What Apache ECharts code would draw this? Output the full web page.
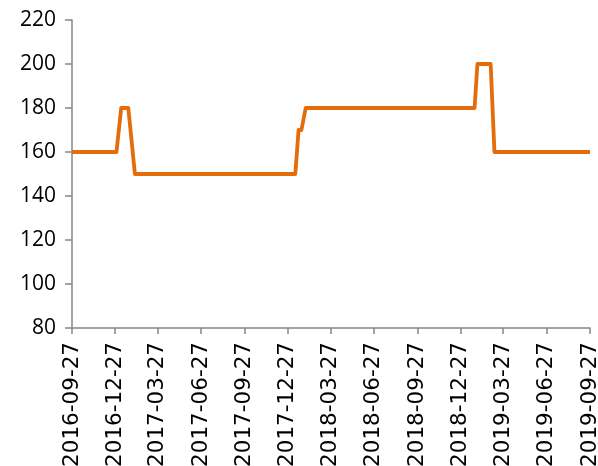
<!DOCTYPE html>
<html>
<head>
<meta charset="utf-8">
<script src="https://cdn.jsdelivr.net/npm/echarts@6/dist/echarts.min.js"></script>
<style>
html,body{margin:0;padding:0;background:#fff;}
#chart{width:598px;height:466px;}
</style>
</head>
<body>
<div id="chart"></div>
<script>
const dates = ['2016-09-27','2016-12-30','2017-01-09','2017-01-24','2017-02-07','2018-01-12','2018-01-19','2018-01-25','2018-02-03','2019-01-26','2019-02-01','2019-03-01','2019-03-09','2019-09-27'];
const values = [160,160,180,180,150,150,170,170,180,180,200,200,160,160];
const tickDates = ['2016-09-27','2016-12-27','2017-03-27','2017-06-27','2017-09-27','2017-12-27','2018-03-27','2018-06-27','2018-09-27','2018-12-27','2019-03-27','2019-06-27','2019-09-27'];
const yMin = 80, yMax = 220, yStep = 20;

function ts(s){ const p = s.split('-').map(Number); return Date.UTC(p[0], p[1]-1, p[2]) / 86400000; }
function fmt(v){ const d = new Date(Math.round(v) * 86400000); const m = String(d.getUTCMonth()+1).padStart(2,'0'); const dd = String(d.getUTCDate()).padStart(2,'0'); return d.getUTCFullYear()+'-'+m+'-'+dd; }

const tickTs = tickDates.map(ts);
const chart = echarts.init(document.getElementById('chart'));
chart.setOption({
  animation: false,
  grid: {left: 72, right: 8, top: 20, bottom: 138, containLabel: false, outerBoundsMode: 'none'},
  xAxis: {
    type: 'value',
    min: tickTs[0],
    max: tickTs[tickTs.length-1],
    splitLine: {show: false},
    axisLine: {lineStyle: {color: '#878787', width: 1.5}},
    axisTick: {show: true, customValues: tickTs, length: 6, lineStyle: {color: '#878787', width: 1.5}},
    axisLabel: {customValues: tickTs, rotate: 90, formatter: v => fmt(v), color: '#000', fontFamily: 'DejaVu Sans', fontSize: 21.5, margin: 14, showMinLabel: true, showMaxLabel: true}
  },
  yAxis: {
    type: 'value',
    min: yMin, max: yMax, interval: yStep,
    splitLine: {show: false},
    axisLine: {show: true, lineStyle: {color: '#878787', width: 1.5}},
    axisTick: {show: true, length: 7, lineStyle: {color: '#878787', width: 1.5}},
    axisLabel: {color: '#000', fontFamily: 'Open Sans', fontSize: 21, margin: 16}
  },
  series: [{
    type: 'line',
    data: dates.map((d,i) => [ts(d), values[i]]),
    showSymbol: false,
    lineStyle: {color: '#E46C0A', width: 3.8, join: 'round'},
    itemStyle: {color: '#E46C0A'}
  }]
});
</script>
</body>
</html>
